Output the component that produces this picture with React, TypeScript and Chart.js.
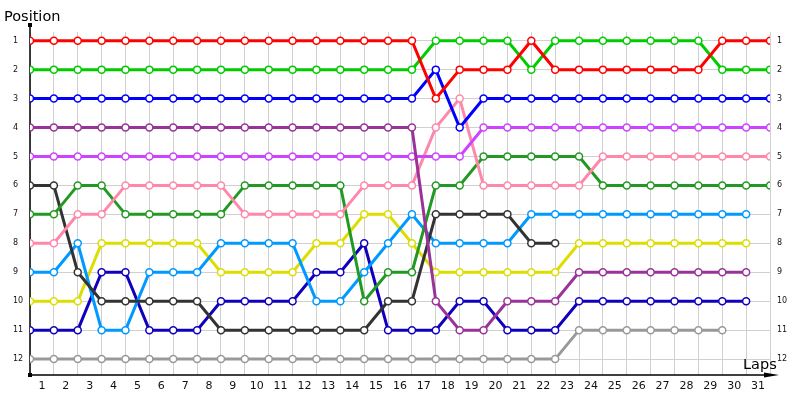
import { useEffect, useRef } from 'react'
import { Chart, registerables } from 'chart.js'

Chart.register(...registerables)

// lap markers 0..31, labels 1..31 sit between them
const laps = [0, 1, 2, 3, 4, 5, 6, 7, 8, 9, 10, 11, 12, 13, 14, 15, 16, 17, 18, 19, 20, 21, 22, 23, 24, 25, 26, 27, 28, 29, 30, 31]
const positions = [1, 2, 3, 4, 5, 6, 7, 8, 9, 10, 11, 12]

const red = [1, 1, 1, 1, 1, 1, 1, 1, 1, 1, 1, 1, 1, 1, 1, 1, 1, 3, 2, 2, 2, 1, 2, 2, 2, 2, 2, 2, 2, 1, 1, 1]
const green = [2, 2, 2, 2, 2, 2, 2, 2, 2, 2, 2, 2, 2, 2, 2, 2, 2, 1, 1, 1, 1, 2, 1, 1, 1, 1, 1, 1, 1, 2, 2, 2]
const blue = [3, 3, 3, 3, 3, 3, 3, 3, 3, 3, 3, 3, 3, 3, 3, 3, 3, 2, 4, 3, 3, 3, 3, 3, 3, 3, 3, 3, 3, 3, 3, 3]
const purple = [4, 4, 4, 4, 4, 4, 4, 4, 4, 4, 4, 4, 4, 4, 4, 4, 4, 10, 11, 11, 10, 10, 10, 9, 9, 9, 9, 9, 9, 9, 9]
const violet = [5, 5, 5, 5, 5, 5, 5, 5, 5, 5, 5, 5, 5, 5, 5, 5, 5, 5, 5, 4, 4, 4, 4, 4, 4, 4, 4, 4, 4, 4, 4, 4]
const pink = [8, 8, 7, 7, 6, 6, 6, 6, 6, 7, 7, 7, 7, 7, 6, 6, 6, 4, 3, 6, 6, 6, 6, 6, 5, 5, 5, 5, 5, 5, 5, 5]
const forest = [7, 7, 6, 6, 7, 7, 7, 7, 7, 6, 6, 6, 6, 6, 10, 9, 9, 6, 6, 5, 5, 5, 5, 5, 6, 6, 6, 6, 6, 6, 6, 6]
const black = [6, 6, 9, 10, 10, 10, 10, 10, 11, 11, 11, 11, 11, 11, 11, 10, 10, 7, 7, 7, 7, 8, 8]
const cyan = [9, 9, 8, 11, 11, 9, 9, 9, 8, 8, 8, 8, 10, 10, 9, 8, 7, 8, 8, 8, 8, 7, 7, 7, 7, 7, 7, 7, 7, 7, 7]
const yellow = [10, 10, 10, 8, 8, 8, 8, 8, 9, 9, 9, 9, 8, 8, 7, 7, 8, 9, 9, 9, 9, 9, 9, 8, 8, 8, 8, 8, 8, 8, 8]
const navy = [11, 11, 11, 9, 9, 11, 11, 11, 10, 10, 10, 10, 9, 9, 8, 11, 11, 11, 10, 10, 11, 11, 11, 10, 10, 10, 10, 10, 10, 10, 10]
const gray = [12, 12, 12, 12, 12, 12, 12, 12, 12, 12, 12, 12, 12, 12, 12, 12, 12, 12, 12, 12, 12, 12, 12, 11, 11, 11, 11, 11, 11, 11]

const series = [
  { name: 'red', color: '#ff0000', values: red },
  { name: 'green', color: '#00cc00', values: green },
  { name: 'blue', color: '#0000ff', values: blue },
  { name: 'purple', color: '#993399', values: purple },
  { name: 'violet', color: '#cc44ff', values: violet },
  { name: 'pink', color: '#ff88aa', values: pink },
  { name: 'forest', color: '#229922', values: forest },
  { name: 'black', color: '#333333', values: black },
  { name: 'cyan', color: '#0099ff', values: cyan },
  { name: 'yellow', color: '#dddd00', values: yellow },
  { name: 'navy', color: '#1100bb', values: navy },
  { name: 'gray', color: '#999999', values: gray },
]

const FONT = '"DejaVu Sans", Verdana, sans-serif'

// axis lines with arrow + dots, and the two axis titles
const axesPlugin = {
  id: 'axesDeco',
  beforeDatasetsDraw(chart: any) {
    const { ctx, chartArea } = chart
    const { left, bottom } = chartArea
    ctx.save()
    ctx.strokeStyle = '#000'
    ctx.fillStyle = '#000'
    ctx.lineWidth = 1.5
    ctx.beginPath()
    ctx.moveTo(left, bottom)
    ctx.lineTo(left, 25)
    ctx.moveTo(left, bottom)
    ctx.lineTo(770, bottom)
    ctx.stroke()
    // arrow
    ctx.beginPath()
    ctx.moveTo(764, bottom - 2.5)
    ctx.lineTo(779, bottom)
    ctx.lineTo(764, bottom + 2.5)
    ctx.closePath()
    ctx.fill()
    ctx.fillRect(left - 2, 23, 4, 4)
    ctx.fillRect(left - 2, bottom - 2, 4, 4)
    ctx.restore()
  },
  afterDraw(chart: any) {
    const { ctx } = chart
    ctx.save()
    ctx.fillStyle = '#000'
    ctx.font = `14.5px ${FONT}`
    ctx.textBaseline = 'alphabetic'
    ctx.textAlign = 'left'
    ctx.fillText('Position', 4, 21)
    ctx.fillText('Laps', 743, 369)
    ctx.restore()
  },
}

export default function App() {
  const canvasRef = useRef<HTMLCanvasElement>(null)
  const chartRef = useRef<Chart | null>(null)

  useEffect(() => {
    if (!canvasRef.current) return
    chartRef.current?.destroy()

    const yRange = { min: 0.7, max: 12.55, reverse: true }

    chartRef.current = new Chart(canvasRef.current, {
      type: 'line',
      data: {
        datasets: series.map(s => ({
          label: s.name,
          data: s.values.map((v, i) => ({ x: laps[i], y: v })),
          borderColor: s.color,
          backgroundColor: s.color,
          borderWidth: 3,
          pointRadius: 3.5,
          pointBorderWidth: 1.5,
          pointBorderColor: s.color,
          pointBackgroundColor: '#ffffff',
          tension: 0,
        })),
      },
      plugins: [axesPlugin],
      options: {
        responsive: false,
        animation: false,
        layout: { padding: { left: 13, top: 32, right: 0, bottom: 0 } },
        plugins: { legend: { display: false }, tooltip: { enabled: false } },
        scales: {
          x: {
            type: 'linear',
            min: 0,
            max: 31,
            afterBuildTicks: (s: any) => { s.ticks = laps.map(v => ({ value: v })) },
            afterFit: (s: any) => { s.height = 25 },
            grid: { color: '#d0d0d0', lineWidth: 1, drawTicks: false },
            border: { display: false },
            ticks: {
              autoSkip: false,
              maxRotation: 0,
              labelOffset: 11.9,
              padding: 5,
              color: '#111',
              font: { family: FONT, size: 11 },
              callback: (v: any) => (v >= 31 ? '' : String(v + 1)),
            },
          },
          y: {
            type: 'linear',
            position: 'left',
            ...yRange,
            afterBuildTicks: (s: any) => { s.ticks = positions.map(v => ({ value: v })) },
            afterFit: (s: any) => { s.width = 17 },
            grid: { color: '#d0d0d0', lineWidth: 1, drawTicks: false },
            border: { display: false },
            ticks: {
              crossAlign: 'far',
              padding: 8,
              color: '#111',
              font: { family: FONT, size: 8 },
            },
          },
          y2: {
            type: 'linear',
            position: 'right',
            ...yRange,
            afterBuildTicks: (s: any) => { s.ticks = positions.map(v => ({ value: v })) },
            afterFit: (s: any) => { s.width = 30 },
            grid: { display: false, drawTicks: false },
            border: { display: false },
            ticks: {
              padding: 7,
              color: '#111',
              font: { family: FONT, size: 8 },
            },
          },
        },
      },
    } as any)

    return () => {
      chartRef.current?.destroy()
      chartRef.current = null
    }
  }, [])

  return (
    <div style={{ position: 'absolute', left: 0, top: 0, width: 800, height: 400, background: '#fff' }}>
      <canvas ref={canvasRef} width={800} height={400} style={{ display: 'block' }} />
    </div>
  )
}
